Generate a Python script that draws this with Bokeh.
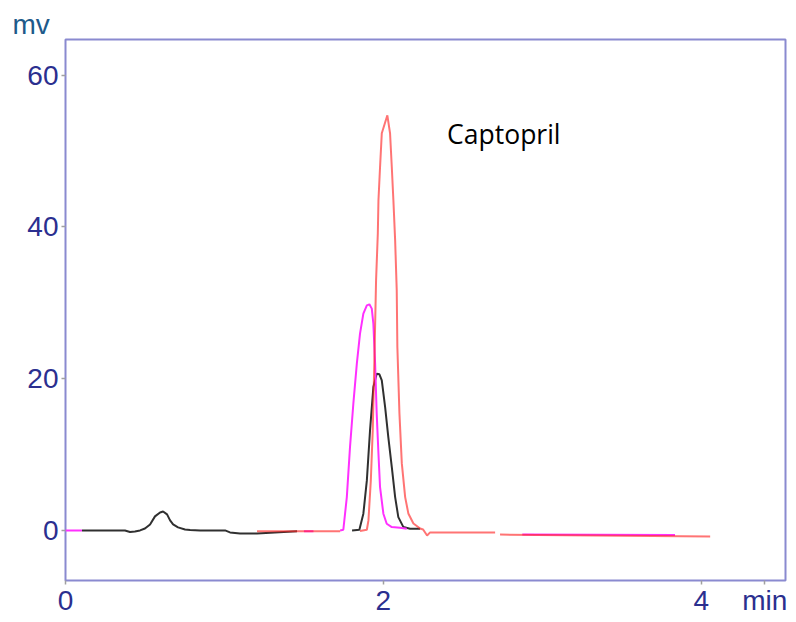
from bokeh.plotting import figure
from bokeh.models import Label, Range1d, FixedTicker
from bokeh.embed import file_html
from bokeh.resources import INLINE

nan = float("nan")

# Time (min) and signal (mV)
black_x = [0.104, 0.374, 0.406, 0.437, 0.469, 0.500, 0.532, 0.563, 0.595, 0.614, 0.639,
           0.658, 0.677, 0.708, 0.752, 0.784, 0.847, 1.004, 1.035, 1.098, 1.205, 1.457, nan,
           1.803, 1.849, 1.874, 1.896, 1.916, 1.937, 1.958, 1.975, 1.990, 2.011, 2.031,
           2.053, 2.074, 2.094, 2.126, 2.168, 2.231]
black_y = [0, 0, -0.2, -0.13, 0, 0.26, 0.79, 1.85, 2.37, 2.5, 2.11,
           1.32, 0.79, 0.40, 0.13, 0.07, 0, 0, -0.26, -0.4, -0.4, -0.1, nan,
           0, 0.09, 2.2, 6.59, 13.18, 18.89, 20.66, 20.57, 19.78, 16.26, 12.30,
           8.35, 4.39, 1.75, 0.44, 0.22, 0.22]

magenta_x = [0.0, 0.104, nan, 1.50, 1.56, nan,
             1.728, 1.748, 1.770, 1.790, 1.811, 1.833, 1.853, 1.874, 1.896, 1.912, 1.927,
             1.937, 1.948, 1.958, 1.969, 1.979, 2.000, 2.021, 2.053, 2.105, 2.147, nan,
             2.874, 3.835]
magenta_y = [0.0, 0.0, nan, -0.1, -0.1, nan,
             0.0, 0.09, 4.39, 10.98, 16.70, 21.98, 25.93, 28.57, 29.66, 29.80, 29.23,
             27.25, 21.98, 15.39, 10.11, 5.71, 2.20, 0.88, 0.44, 0.36, 0.22, nan,
             -0.55, -0.6]

red_x = [1.205, 1.728, nan,
         1.853, 1.896, 1.906, 1.921, 1.933, 1.943, 1.954, 1.965, 1.969, 1.979, 1.990,
         2.025, 2.042, 2.053, 2.063, 2.074, 2.084, 2.088, 2.101, 2.116, 2.137, 2.157,
         2.189, 2.231, 2.250, 2.275, 2.294, 2.703, nan,
         2.734, 4.056]
red_y = [-0.1, -0.1, nan,
         -0.07, 0.09, 1.32, 6.59, 13.18, 22.02, 32.96, 39.16, 43.51, 47.86, 52.34,
         54.71, 52.34, 47.86, 43.51, 38.23, 31.64, 24.17, 15.43, 8.83, 4.39, 2.24,
         0.92, 0.26, 0.13, -0.66, -0.26, -0.26, nan,
         -0.55, -0.79]

x_ticks = [0, 2, 4]
y_ticks = [0, 20, 40, 60]
x_unit = "min"
y_unit = "mv"
peak_name = "Captopril"

tick_col = "#2b2f8f"
unit_col = "#1e5a8a"
frame_col = "#8a8ad0"
font = "Liberation Sans"

x_unit_pos = 4.4

p = figure(width=796, height=622, output_backend="svg", toolbar_location=None,
           x_range=Range1d(0, 4.53), y_range=Range1d(-6.6, 64.7),
           min_border_left=65, min_border_right=11, min_border_top=39, min_border_bottom=42,
           title=y_unit)
p.title.text_font = font
p.title.text_font_size = "28px"
p.title.text_font_style = "normal"
p.title.text_color = unit_col
p.title.align = "left"
p.title.offset = -53
p.title.standoff = 0
p.xgrid.visible = False
p.ygrid.visible = False
p.outline_line_color = frame_col
p.outline_line_width = 2
p.background_fill_color = "white"
p.border_fill_color = "white"

p.xaxis[0].ticker = FixedTicker(ticks=x_ticks + [x_unit_pos])
p.xaxis[0].major_label_overrides = {x_unit_pos: x_unit}
p.yaxis[0].ticker = FixedTicker(ticks=y_ticks)
for ax in (p.xaxis[0], p.yaxis[0]):
    ax.minor_tick_line_color = None
    ax.axis_line_color = None
    ax.major_tick_line_color = "#a0a0a0"
    ax.major_tick_line_width = 1.5
    ax.major_tick_in = 0
    ax.major_tick_out = 4
    ax.major_label_text_font = font
    ax.major_label_text_font_size = "28px"
    ax.major_label_text_color = tick_col
p.xaxis.major_label_standoff = 0
p.yaxis.major_label_standoff = 3

p.line(black_x, black_y, line_color="#303030", line_width=2)
p.line(magenta_x, magenta_y, line_color="#ff30ff", line_width=2)
p.line(red_x, red_y, line_color="#ff2a2a", line_alpha=0.65, line_width=2)

p.add_layout(Label(x=2.401, y=52.2, text=peak_name, text_font="Open Sans",
                   text_font_size="26.5px", text_color="black", text_baseline="alphabetic"))

open("out.html", "w").write(file_html(p, INLINE))
